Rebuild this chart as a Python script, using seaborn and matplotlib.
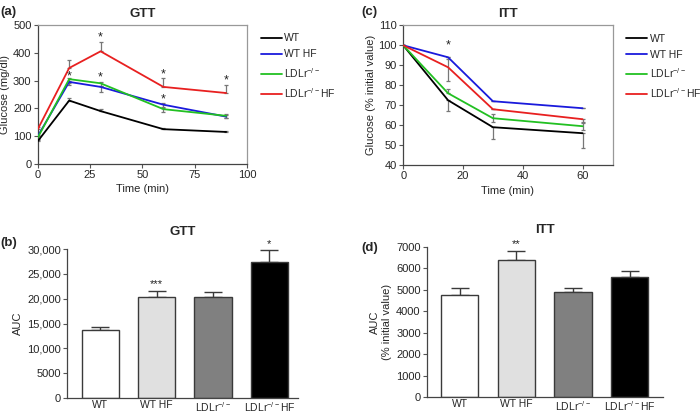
import numpy as np
import pandas as pd
import matplotlib
matplotlib.use("Agg")
import matplotlib.pyplot as plt
import seaborn as sns

sns.set_theme(style="white")
plt.rcParams['font.family'] = ['Liberation Sans', 'DejaVu Sans']
plt.rcParams['mathtext.default'] = 'regular'

groups = ['WT', 'WT HF', 'LDLr$^{-/-}$', 'LDLr$^{-/-}$HF']
legend_labels = ['WT', 'WT HF', 'LDLr$^{-/-}$', 'LDLr$^{-/-}$HF']
line_colors = ['#000000', '#1a1adc', '#22c022', '#e82020']
bar_colors = ['#ffffff', '#e0e0e0', '#808080', '#000000']

# GTT time course
gtt_time = [0, 15, 30, 60, 90]
gtt_wt = [82, 228, 190, 125, 115]
gtt_wthf = [100, 295, 277, 213, 170]
gtt_ldlr = [95, 305, 290, 197, 173]
gtt_ldlrhf = [125, 345, 405, 277, 255]
gtt_err_lo = [[0, 0, 0, 0, 0], [5, 12, 18, 8, 6], [5, 14, 8, 12, 8], [0, 0, 0, 0, 0]]
gtt_err_hi = [[5, 8, 8, 6, 5], [5, 5, 5, 5, 5], [5, 5, 5, 5, 5], [8, 30, 33, 32, 28]]
gtt_stars = [(15, 316), (30, 456), (30, 310), (60, 323), (60, 233), (90, 300)]

# ITT time course
itt_time = [0, 15, 30, 60]
itt_wt = [100, 72.5, 59, 56]
itt_wthf = [100, 94, 72, 68.5]
itt_ldlr = [100, 76, 63.5, 59.5]
itt_ldlrhf = [100, 89, 68, 63]
itt_err_lo = [[0, 5.5, 6, 7.5], [0, 0, 0, 0], [0, 0, 2, 2], [0, 7, 0, 2]]
itt_err_hi = [[0, 0, 0, 0], [0, 0, 0, 0], [0, 2, 2, 2], [0, 4, 0, 0]]
itt_stars = [(15, 100)]

# AUC
gtt_auc = [13700, 20400, 20300, 27400]
gtt_auc_err = [500, 1200, 1000, 2300]
gtt_auc_stars = ['', '***', '', '*']
itt_auc = [4750, 6380, 4880, 5620]
itt_auc_err = [330, 440, 220, 280]
itt_auc_stars = ['', '**', '', '']

fig = plt.figure(figsize=(7.0, 4.15), dpi=100)

ax_a = fig.add_axes([0.054, 0.605, 0.299, 0.335])
ax_c = fig.add_axes([0.576, 0.602, 0.299, 0.337])
ax_b = fig.add_axes([0.096, 1 - 398 / 415, 0.329, 149 / 415])
ax_d = fig.add_axes([0.610, 1 - 397 / 415, 0.337, 150 / 415])

tick_fs = 8
label_fs = 8


def line_panel(ax, time, series, lo, hi, stars, xlim, xticks, ylim, yticks, ylabel, title, letter, fig_letter_xy):
    rows = []
    for g, vals in zip(legend_labels, series):
        for t, v in zip(time, vals):
            rows.append({'time': t, 'value': v, 'group': g})
    df = pd.DataFrame(rows)
    for vals, l, h in zip(series, lo, hi):
        ax.errorbar(time, vals, yerr=[l, h], fmt='none', ecolor='#777777',
                    elinewidth=0.9, capsize=1.5, capthick=0.9, zorder=1)
    sns.lineplot(data=df, x='time', y='value', hue='group', palette=line_colors,
                 linewidth=1.3, ax=ax, legend=True, zorder=3)
    for x, y in stars:
        ax.text(x, y, '*', ha='center', va='center', fontsize=9, color='#222222')
    ax.set_xlim(*xlim)
    ax.set_xticks(xticks)
    ax.set_ylim(*ylim)
    ax.set_yticks(yticks)
    ax.set_xlabel('Time (min)', fontsize=label_fs, labelpad=3)
    ax.set_ylabel(ylabel, fontsize=label_fs, labelpad=2)
    ax.set_title(title, fontsize=9.5, fontweight='bold', pad=6)
    ax.tick_params(axis='both', labelsize=tick_fs, direction='out', length=3,
                   width=0.8, color='#555555', left=True, bottom=True, pad=1.5)
    for s in ['left', 'bottom']:
        ax.spines[s].set_color('#444444')
        ax.spines[s].set_linewidth(0.9)
    for s in ['top', 'right']:
        ax.spines[s].set_color('#999999')
        ax.spines[s].set_linewidth(0.9)
    leg = ax.legend(loc='upper left', bbox_to_anchor=(1.045, 0.97), frameon=False,
                    fontsize=7.5, handlelength=2.0, handletextpad=0.25,
                    labelspacing=0.6, borderaxespad=0)
    for line in leg.get_lines():
        line.set_linewidth(1.3)
    fig.text(fig_letter_xy[0], fig_letter_xy[1], letter, fontsize=9.5,
             fontweight='bold', ha='left', va='center')


line_panel(ax_a, gtt_time, [gtt_wt, gtt_wthf, gtt_ldlr, gtt_ldlrhf],
           gtt_err_lo, gtt_err_hi, gtt_stars, (0, 100), [0, 25, 50, 75, 100],
           (0, 500), range(0, 501, 100), 'Glucose (mg/dl)', 'GTT', '(a)',
           (0.001, 1 - 12 / 415))
line_panel(ax_c, itt_time, [itt_wt, itt_wthf, itt_ldlr, itt_ldlrhf],
           itt_err_lo, itt_err_hi, itt_stars, (0, 70), [0, 20, 40, 60],
           (40, 110), range(40, 111, 10), 'Glucose (% initial value)', 'ITT', '(c)',
           (0.516, 1 - 12 / 415))


def bar_panel(ax, vals, errs, stars, ylim, yticks, yticklabels, ylabel, title, letter, letter_xy, xlim):
    df = pd.DataFrame({'group': groups, 'value': vals})
    sns.barplot(data=df, x='group', y='value', hue='group', palette=bar_colors,
                order=groups, hue_order=groups, width=0.66, edgecolor='#3a3a3a',
                linewidth=1.0, ax=ax, legend=False, errorbar=None)
    xs = np.arange(len(vals))
    ax.errorbar(xs, vals, yerr=[np.zeros(len(errs)), errs], fmt='none',
                ecolor='#3a3a3a', elinewidth=1.0, capsize=6.5, capthick=1.0, zorder=0)
    for x, v, e, s in zip(xs, vals, errs, stars):
        if s:
            ax.text(x, v + e + (ylim[1] - ylim[0]) * 0.01, s, ha='center', va='bottom',
                    fontsize=8, color='#222222')
    ax.set_xlim(*xlim)
    ax.set_ylim(*ylim)
    ax.set_yticks(yticks)
    ax.set_yticklabels(yticklabels)
    ax.set_xlabel('')
    ax.set_ylabel(ylabel, fontsize=label_fs, labelpad=3)
    ax.set_title(title, fontsize=9.5, fontweight='bold', pad=10)
    ax.tick_params(axis='y', labelsize=tick_fs, direction='out', length=3,
                   width=0.8, color='#555555', left=True, pad=1.5)
    ax.tick_params(axis='x', labelsize=7.5, length=0, pad=1.5)
    sns.despine(ax=ax)
    for s in ['left', 'bottom']:
        ax.spines[s].set_color('#444444')
        ax.spines[s].set_linewidth(0.9)
    fig.text(letter_xy[0], letter_xy[1], letter, fontsize=9.5,
             fontweight='bold', ha='left', va='center')


bar_panel(ax_b, gtt_auc, gtt_auc_err, gtt_auc_stars, (0, 30000),
          range(0, 30001, 5000),
          ['0', '5000', '10,000', '15,000', '20,000', '25,000', '30,000'],
          'AUC', 'GTT', '(b)', (0.001, 1 - 243 / 415), (-0.59, 3.5))
bar_panel(ax_d, itt_auc, itt_auc_err, itt_auc_stars, (0, 7000),
          range(0, 7001, 1000), [str(v) for v in range(0, 7001, 1000)],
          'AUC\n(% initial value)', 'ITT', '(d)', (0.516, 1 - 248 / 415), (-0.58, 3.59))

fig.savefig('out.png', dpi=100)
